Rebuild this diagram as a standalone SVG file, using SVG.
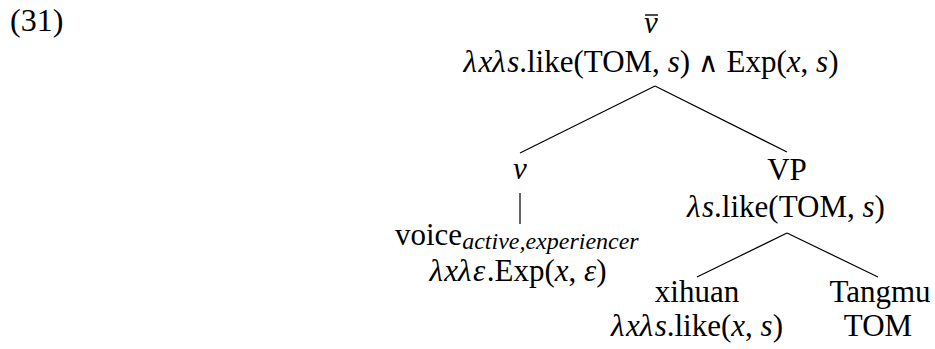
<svg xmlns="http://www.w3.org/2000/svg" width="935" height="349" viewBox="0 0 935 349">
  <style>
    text { font-family: "Liberation Serif", "DejaVu Serif", serif; font-size: 31px; fill: #000; }
    .c { text-anchor: middle; }
    .i { font-style: italic; }
    .g { font-style: italic; letter-spacing: 1.5px; }
    .sub { font-size: 24px; font-style: italic; }
    .wedge { font-family: "DejaVu Sans ExtraLight", "DejaVu Sans", sans-serif; font-weight: 200; font-size: 28px; }
    .edge { stroke: #000; stroke-width: 1.2; fill: none; }
  </style>

  <!-- example number -->
  <text x="10" y="31" style="font-size:32px">(31)</text>

  <!-- root: v-bar -->
  <g id="vbar">
    <text class="c i" x="651" y="33">v</text>
    <line x1="645" y1="15" x2="658" y2="15" stroke="#000" stroke-width="1.4"/>
    <text class="c" x="651" y="72"><tspan class="g">λ</tspan><tspan class="i">x</tspan><tspan class="g">λ</tspan><tspan class="i">s</tspan>.like(TOM,<tspan class="i"> s</tspan>) <tspan class="wedge">∧</tspan> Exp(<tspan class="i">x</tspan>,<tspan class="i"> s</tspan>)</text>
  </g>

  <!-- v head -->
  <g id="v">
    <text class="c i" x="520" y="179">v</text>
  </g>

  <!-- voice leaf -->
  <g id="voice">
    <text x="395" y="245">voice<tspan class="sub" dy="4">active,experiencer</tspan></text>
    <text class="c" x="518" y="281"><tspan class="g">λ</tspan><tspan class="i">x</tspan><tspan class="g">λε</tspan>.Exp(<tspan class="i">x</tspan>,<tspan class="i"> ε</tspan>)</text>
  </g>

  <!-- VP -->
  <g id="VP">
    <text class="c" x="787" y="180">VP</text>
    <text class="c" x="786" y="217"><tspan class="g">λ</tspan><tspan class="i">s</tspan>.like(TOM,<tspan class="i"> s</tspan>)</text>
  </g>

  <!-- xihuan -->
  <g id="xihuan">
    <text class="c" x="697" y="302">xihuan</text>
    <text class="c" x="697" y="336"><tspan class="g">λ</tspan><tspan class="i">x</tspan><tspan class="g">λ</tspan><tspan class="i">s</tspan>.like(<tspan class="i">x</tspan>,<tspan class="i"> s</tspan>)</text>
  </g>

  <!-- Tangmu -->
  <g id="Tangmu">
    <text class="c" x="880" y="302">Tangmu</text>
    <text class="c" x="878" y="336">TOM</text>
  </g>

  <!-- tree branches -->
  <g id="edges">
    <line class="edge" x1="655" y1="86" x2="520" y2="153"/>
    <line class="edge" x1="655" y1="86" x2="787" y2="152"/>
    <line class="edge" x1="520" y1="193" x2="520" y2="224"/>
    <line class="edge" x1="787" y1="233" x2="697" y2="277"/>
    <line class="edge" x1="787" y1="233" x2="878" y2="277"/>
  </g>
</svg>
